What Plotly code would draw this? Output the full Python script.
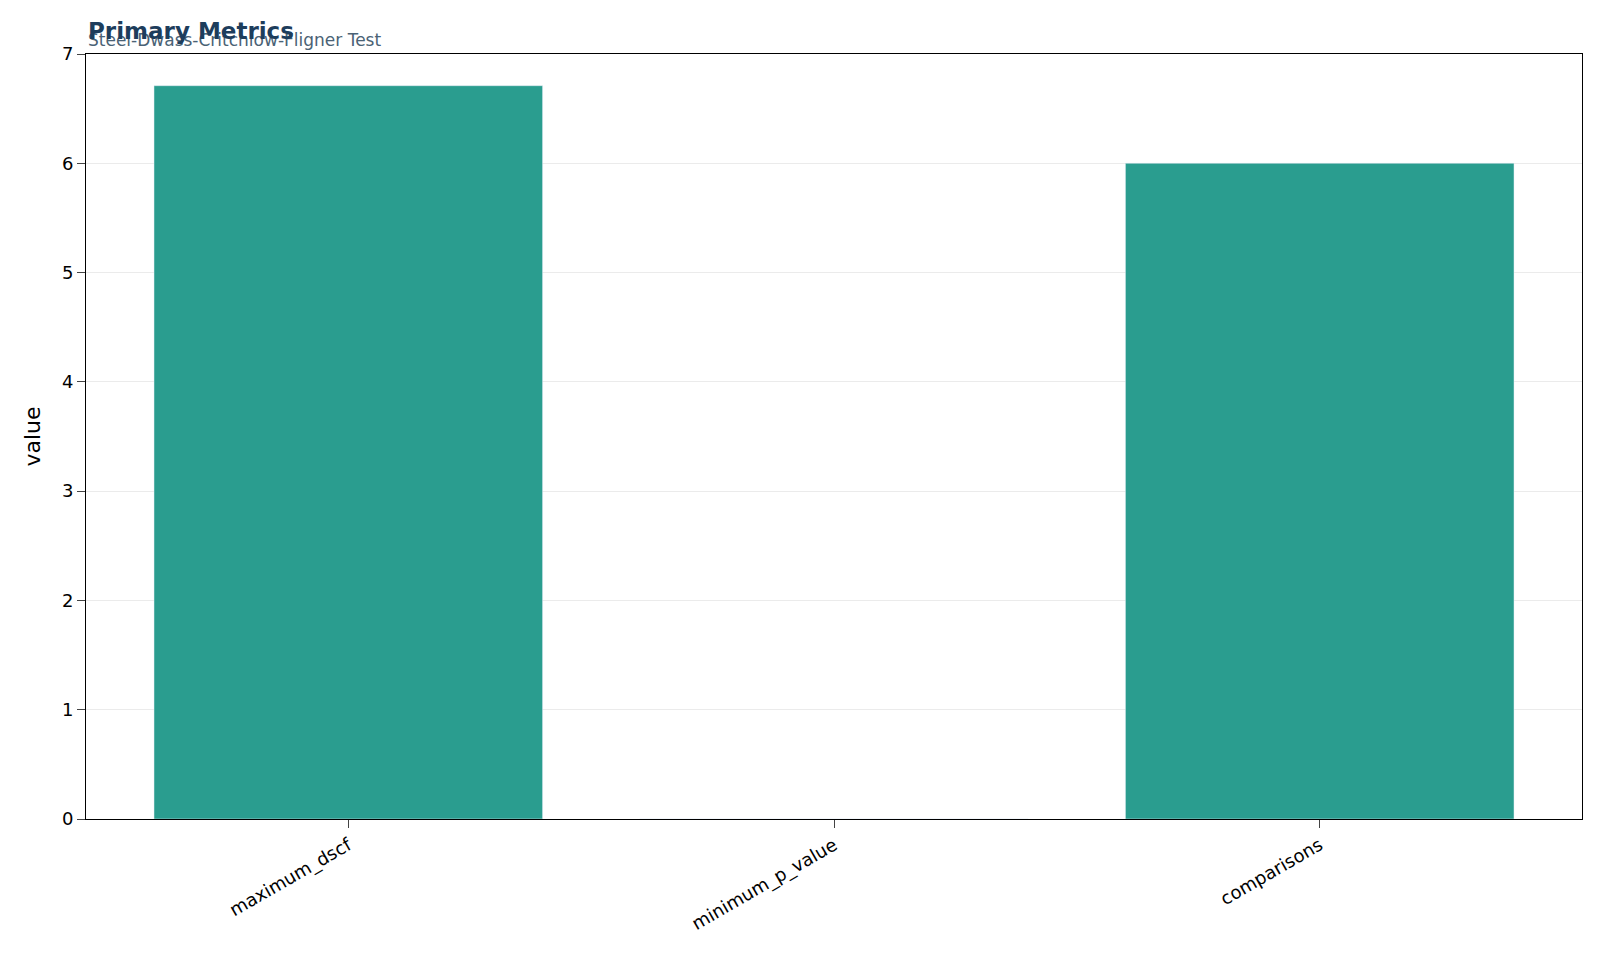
import plotly.graph_objects as go

metrics = ["maximum_dscf", "minimum_p_value", "comparisons"]
values = [6.71, 0.0004, 6]

fig = go.Figure()
fig.add_trace(go.Bar(x=metrics, y=values, marker_color="#2a9d8f", width=0.8))

fig.update_layout(
    width=1600, height=979,
    paper_bgcolor="white", plot_bgcolor="white",
    font=dict(family="DejaVu Sans", size=18, color="black"),
    margin=dict(l=78, r=26, t=46, b=168),
    showlegend=False,
    annotations=[
        dict(text="Steel-Dwass-Critchlow-Fligner Test", x=0, y=1.002, xref="paper", yref="paper",
             xanchor="left", yanchor="bottom", showarrow=False,
             font=dict(size=17, color="#4a6275")),
        dict(text="<b>Primary Metrics</b>", x=0, y=1.01, xref="paper", yref="paper",
             xanchor="left", yanchor="bottom", showarrow=False,
             font=dict(size=23, color="#1d3d5c")),
    ],
)
fig.update_xaxes(range=[-0.54, 2.54], showline=True, linecolor="black", mirror=True,
                 ticks="outside", ticklen=8, tickangle=-30, showgrid=False)
fig.update_yaxes(range=[0, 7], dtick=1, showline=True, linecolor="black", mirror=True,
                 ticks="outside", ticklen=8, gridcolor="#ebebeb", title_text="value",
                 zeroline=False)

fig.write_html("out.html")
